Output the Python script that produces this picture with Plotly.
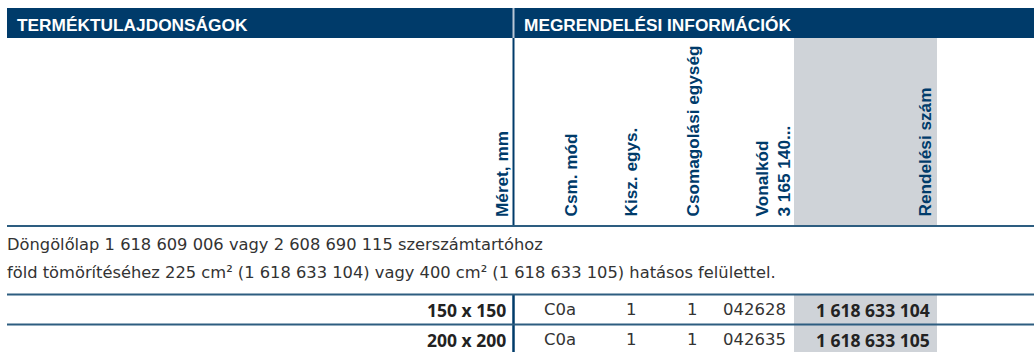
import plotly.graph_objects as go

# ---------------- data ----------------
section_titles = ["TERMÉKTULAJDONSÁGOK", "MEGRENDELÉSI INFORMÁCIÓK"]
column_headers = ["Méret, mm", "Csm. mód", "Kisz. egys.", "Csomagolási egység",
                  "Vonalkód<br>3 165 140...", "Rendelési szám"]
note_lines = [
    "Döngölőlap 1 618 609 006 vagy 2 608 690 115 szerszámtartóhoz",
    "föld tömörítéséhez 225 cm² (1 618 633 104) vagy 400 cm² (1 618 633 105) hatásos felülettel.",
]
sizes = ["150 x 150", "200 x 200"]
csm_mod = ["C0a", "C0a"]
kisz_egys = [1, 1]
csomag_egys = [1, 1]
vonalkod = ["042628", "042635"]
rendelesi_szam = ["1 618 633 104", "1 618 633 105"]

# ---------------- style / layout ----------------
W, H = 1034, 352
BLUE = "#003b6a"
LINE = "#2d5d80"
GRAY = "#cfd3d8"
HFONT = "Liberation Sans"
BFONT = "DejaVu Sans"
BOLDFONT = "Open Sans"

fig = go.Figure()
shapes = []
ann = []

def rect(x0, y0, x1, y1, color):
    shapes.append(dict(type="rect", xref="x", yref="y", x0=x0, x1=x1, y0=y0, y1=y1,
                       fillcolor=color, line=dict(width=0), layer="below"))

def line(x0, y0, x1, y1, color, w):
    shapes.append(dict(type="line", xref="x", yref="y", x0=x0, x1=x1, y0=y0, y1=y1,
                       line=dict(color=color, width=w)))

# header band
rect(7, 8, W, 38, BLUE)
line(513.5, 8, 513.5, 38, "#b9c7d6", 2)
# grey order-number column
rect(794, 38, 937, 225, GRAY)
rect(794, 295, 937, H, GRAY)
# vertical divider in header area and rows
line(513.5, 38, 513.5, 225, BLUE, 2)
line(513.5, 295, 513.5, H, BLUE, 2.5)
# horizontal rules
line(7, 226, W, 226, LINE, 2)
line(7, 294.5, W, 294.5, LINE, 2)
line(7, 324.5, W, 324.5, LINE, 2)

# section titles
title_x = [15, 522]
for t, x in zip(section_titles, title_x):
    ann.append(dict(x=x, y=24.5, text="<b>%s</b>" % t, xanchor="left", yanchor="middle",
                    font=dict(family=HFONT, size=17.3, color="white")))

# rotated column headers
head_x = [502, 570, 630, 692, 772, 924]
for t, x in zip(column_headers, head_x):
    ann.append(dict(x=x, y=219, text="<b>%s</b>" % t, textangle=-90, align="left",
                    xanchor="center", yanchor="bottom",
                    font=dict(family=HFONT, size=17.2, color=BLUE)))

# note lines
for i, t in enumerate(note_lines):
    ann.append(dict(x=5, y=244.5 + 28 * i, text=t, xanchor="left", yanchor="middle",
                    font=dict(family=BFONT, size=16.3, color="#333333")))

# data rows
row_y = [309.5, 339.5]
reg = dict(family=BFONT, size=16.5, color="#333333")
bold = dict(family=BOLDFONT, size=17.5, color="#222222")
for i, y in enumerate(row_y):
    ann.append(dict(x=508, y=y, text="<b>%s</b>" % sizes[i], xanchor="right", yanchor="middle", font=bold))
    ann.append(dict(x=560, y=y, text=csm_mod[i], xanchor="center", yanchor="middle", font=reg))
    ann.append(dict(x=631, y=y, text=str(kisz_egys[i]), xanchor="center", yanchor="middle", font=reg))
    ann.append(dict(x=692, y=y, text=str(csomag_egys[i]), xanchor="center", yanchor="middle", font=reg))
    ann.append(dict(x=788, y=y, text=vonalkod[i], xanchor="right", yanchor="middle", font=reg))
    ann.append(dict(x=932, y=y, text="<b>%s</b>" % rendelesi_szam[i], xanchor="right", yanchor="middle", font=bold))

for a in ann:
    a.update(showarrow=False, xref="x", yref="y")

fig.update_layout(
    width=W, height=H, margin=dict(l=0, r=0, t=0, b=0),
    paper_bgcolor="white", plot_bgcolor="white",
    xaxis=dict(range=[0, W], visible=False, fixedrange=True),
    yaxis=dict(range=[H, 0], visible=False, fixedrange=True),
    shapes=shapes, annotations=ann, showlegend=False,
)
fig.write_html("out.html", config={"displayModeBar": False},
               post_script="document.body.style.margin='0';document.body.style.overflow='hidden';")
